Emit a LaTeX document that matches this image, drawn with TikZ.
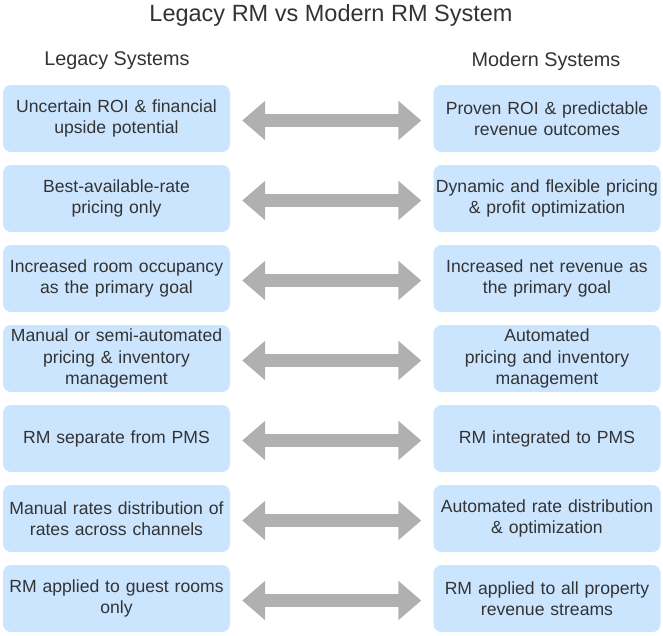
\documentclass[tikz,border=0pt]{standalone}
\usepackage{fontspec}
\setmainfont{Liberation Sans}
\usetikzlibrary{arrows.meta,positioning}
\definecolor{boxfill}{HTML}{CCE5FF}
\definecolor{txt}{HTML}{333333}
\definecolor{arrowgray}{HTML}{B0B0B0}

\begin{document}
\begin{tikzpicture}[x=1pt,y=-1pt,
  sysbox/.style={fill=boxfill,rounded corners=8pt,minimum width=227pt,minimum height=67pt,
    text width=226pt,align=center,text=txt,font=\fontsize{17.6}{21.5}\selectfont,inner sep=0pt},
  header/.style={text=txt,font=\fontsize{19.8}{23}\selectfont},
  bigarrow/.style={arrowgray,line width=13pt,{Triangle[width=38pt,length=23pt]}-{Triangle[width=38pt,length=23pt]}}]
  \useasboundingbox (0,0) rectangle (663,635);

  % title and column headers
  \node[text=txt,font=\fontsize{23.5}{27}\selectfont] (title) at (331,15) {Legacy RM vs Modern RM System};
  \node[header] (legacy) at (117,61) {Legacy Systems};
  \node[header] (modern) at (546,61) {Modern Systems};

  % row 1
  \node[sysbox] (l1) at (116.5,118.5) {Uncertain ROI \& financial\\upside potential};
  \node[sysbox] (r1) at (547,118.5) {Proven ROI \& predictable\\revenue outcomes};
  \draw[bigarrow] ([xshift=12pt,yshift=-2pt]l1.east) -- ([xshift=-12pt,yshift=-2pt]r1.west);

  % row 2
  \node[sysbox] (l2) at (116.5,198.5) {Best-available-rate\\pricing only};
  \node[sysbox] (r2) at (547,198.5) {Dynamic and flexible pricing\\\& profit optimization};
  \draw[bigarrow] ([xshift=12pt,yshift=-2pt]l2.east) -- ([xshift=-12pt,yshift=-2pt]r2.west);

  % row 3
  \node[sysbox] (l3) at (116.5,278.5) {Increased room occupancy\\as the primary goal};
  \node[sysbox] (r3) at (547,278.5) {Increased net revenue as\\the primary goal};
  \draw[bigarrow] ([xshift=12pt,yshift=-2pt]l3.east) -- ([xshift=-12pt,yshift=-2pt]r3.west);

  % row 4
  \node[sysbox] (l4) at (116.5,358.5) {Manual or semi-automated\\pricing \& inventory\\management};
  \node[sysbox] (r4) at (547,358.5) {Automated\\pricing and inventory\\management};
  \draw[bigarrow] ([xshift=12pt,yshift=-2pt]l4.east) -- ([xshift=-12pt,yshift=-2pt]r4.west);

  % row 5
  \node[sysbox] (l5) at (116.5,438.5) {RM separate from PMS};
  \node[sysbox] (r5) at (547,438.5) {RM integrated to PMS};
  \draw[bigarrow] ([xshift=12pt,yshift=-2pt]l5.east) -- ([xshift=-12pt,yshift=-2pt]r5.west);

  % row 6
  \node[sysbox] (l6) at (116.5,518.5) {Manual rates distribution of\\rates across channels};
  \node[sysbox] (r6) at (547,518.5) {Automated rate distribution\\\& optimization};
  \draw[bigarrow] ([xshift=12pt,yshift=-2pt]l6.east) -- ([xshift=-12pt,yshift=-2pt]r6.west);

  % row 7
  \node[sysbox] (l7) at (116.5,598.5) {RM applied to guest rooms\\only};
  \node[sysbox] (r7) at (547,598.5) {RM applied to all property\\revenue streams};
  \draw[bigarrow] ([xshift=12pt,yshift=-2pt]l7.east) -- ([xshift=-12pt,yshift=-2pt]r7.west);
\end{tikzpicture}
\end{document}
